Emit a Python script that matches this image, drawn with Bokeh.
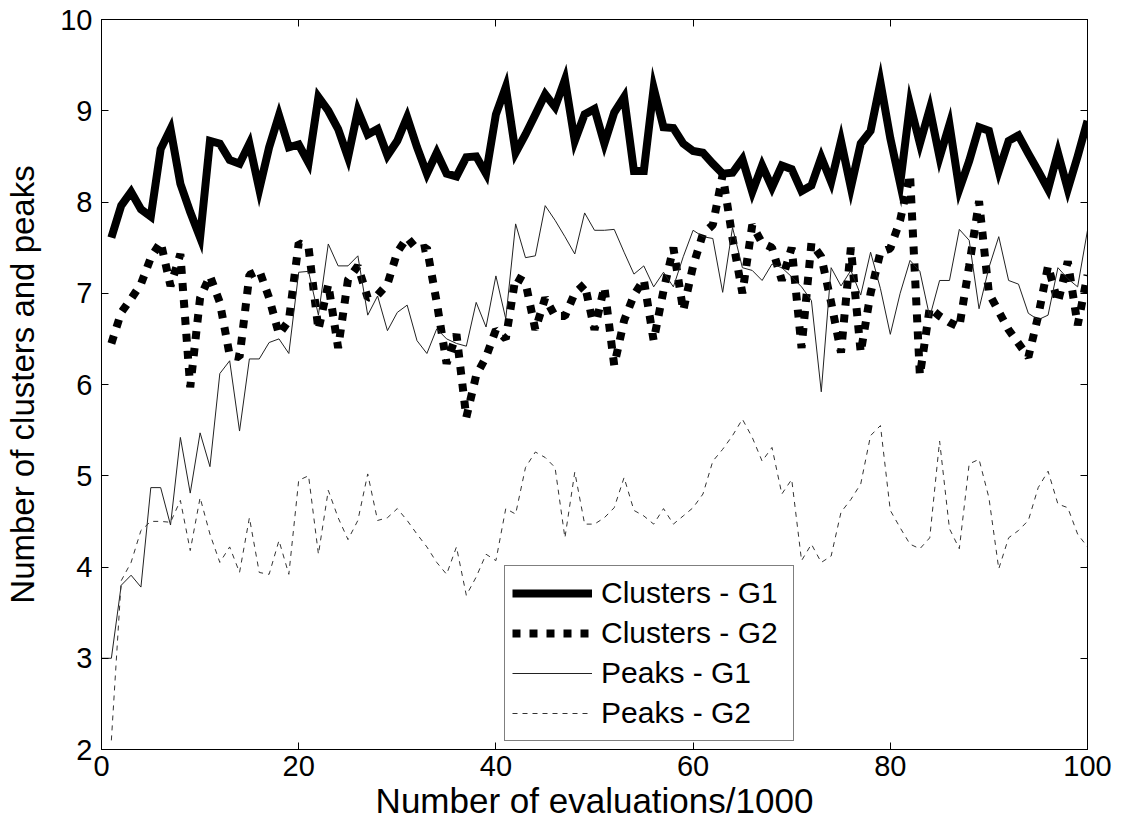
from bokeh.plotting import figure
from bokeh.models import LinearAxis, Legend, LegendItem, FixedTicker, Range1d
from bokeh.embed import file_html
from bokeh.resources import INLINE

# ---- data ----
evals = list(range(1, 101))
evals_peaks_g1 = list(range(0, 101))

clusters_g1 = [7.61, 7.96, 8.11, 7.92, 7.84, 8.58, 8.80, 8.20, 7.89, 7.61,
               8.67, 8.64, 8.46, 8.42, 8.64, 8.14, 8.60, 8.95, 8.60, 8.63,
               8.43, 9.15, 9.00, 8.80, 8.49, 9.00, 8.74, 8.80, 8.51, 8.67,
               8.93, 8.60, 8.31, 8.54, 8.31, 8.28, 8.49, 8.50, 8.31, 8.96,
               9.26, 8.54, 8.74, 8.96, 9.18, 9.04, 9.34, 8.67, 8.96, 9.02,
               8.64, 8.98, 9.15, 8.34, 8.34, 9.25, 8.82, 8.81, 8.64, 8.56,
               8.54, 8.42, 8.31, 8.32, 8.47, 8.11, 8.40, 8.16, 8.40, 8.36,
               8.12, 8.18, 8.49, 8.22, 8.67, 8.16, 8.64, 8.78, 9.31, 8.70,
               8.20, 9.07, 8.64, 9.02, 8.49, 8.85, 8.14, 8.45, 8.82, 8.78,
               8.34, 8.67, 8.73, 8.53, 8.34, 8.14, 8.54, 8.14, 8.50, 8.89]

clusters_g2 = [6.45, 6.79, 6.94, 7.10, 7.39, 7.56, 7.08, 7.43, 5.97, 6.95,
               7.19, 6.90, 6.32, 6.30, 7.20, 7.25, 6.95, 6.55, 6.70, 7.55,
               7.50, 6.60, 7.10, 6.40, 7.15, 7.30, 6.95, 6.98, 7.10, 7.45,
               7.61, 7.48, 7.50, 6.90, 6.23, 6.55, 5.64, 6.10, 6.30, 6.60,
               6.50, 7.18, 7.12, 6.60, 6.95, 6.75, 6.75, 7.00, 7.10, 6.60,
               7.07, 6.21, 6.70, 6.98, 7.15, 6.48, 7.03, 7.50, 6.81, 7.30,
               7.65, 7.75, 8.30, 7.60, 7.00, 7.75, 7.55, 7.50, 7.14, 7.50,
               6.40, 7.55, 7.40, 6.90, 6.35, 7.50, 6.35, 7.00, 7.45, 7.49,
               7.80, 8.30, 6.10, 6.84, 6.75, 6.68, 6.63, 7.30, 8.01, 7.00,
               6.80, 6.60, 6.45, 6.30, 6.75, 7.30, 6.90, 7.35, 6.65, 7.20]

peaks_g1 = [3.00,
            3.00, 3.80, 3.91, 3.78, 4.87, 4.87, 4.46, 5.42, 4.81, 5.47,
            5.10, 6.12, 6.26, 5.49, 6.28, 6.28, 6.46, 6.50, 6.34, 7.23,
            7.24, 6.76, 7.54, 7.30, 7.30, 7.41, 6.76, 6.97, 6.59, 6.79,
            6.87, 6.48, 6.34, 6.61, 6.50, 6.45, 6.42, 6.90, 6.63, 7.19,
            6.72, 7.76, 7.39, 7.41, 7.96, 7.80, 7.62, 7.43, 7.88, 7.69,
            7.69, 7.70, 7.45, 7.21, 7.30, 7.07, 7.23, 7.07, 7.40, 7.69,
            7.62, 7.60, 7.01, 7.72, 7.28, 7.25, 7.14, 7.32, 7.28, 7.18,
            7.07, 6.92, 5.92, 7.28, 7.08, 7.25, 6.98, 7.45, 7.05, 6.55,
            7.00, 7.36, 7.24, 6.74, 7.14, 7.14, 7.70, 7.58, 6.83, 7.28,
            7.62, 7.14, 7.10, 6.78, 6.71, 6.76, 7.28, 7.16, 7.07, 7.69]

peaks_g2 = [2.10, 3.85, 4.05, 4.40, 4.50, 4.50, 4.49, 4.73, 4.18, 4.76,
            4.36, 4.05, 4.22, 3.94, 4.54, 3.94, 3.92, 4.29, 3.92, 4.95,
            5.00, 4.14, 4.84, 4.54, 4.30, 4.51, 5.02, 4.51, 4.54, 4.64,
            4.51, 4.36, 4.22, 4.05, 3.92, 4.22, 3.69, 3.89, 4.14, 4.07,
            4.64, 4.58, 5.09, 5.26, 5.20, 5.09, 4.32, 5.04, 4.47, 4.47,
            4.54, 4.65, 4.98, 4.62, 4.56, 4.47, 4.64, 4.47, 4.56, 4.65,
            4.80, 5.16, 5.29, 5.44, 5.62, 5.42, 5.16, 5.31, 4.80, 4.96,
            4.07, 4.25, 4.05, 4.12, 4.60, 4.74, 4.91, 5.44, 5.55, 4.62,
            4.43, 4.25, 4.20, 4.32, 5.38, 4.42, 4.20, 5.13, 5.18, 4.76,
            3.98, 4.32, 4.40, 4.51, 4.87, 5.05, 4.69, 4.65, 4.36, 4.22]

x_ticks = [0, 20, 40, 60, 80, 100]
y_ticks = [2, 3, 4, 5, 6, 7, 8, 9, 10]

FONT = "Liberation Sans"

p = figure(frame_width=986, frame_height=730,
           x_range=Range1d(0, 100), y_range=Range1d(2, 10),
           output_backend="svg", toolbar_location=None,
           min_border_left=101, min_border_right=38,
           min_border_top=19, min_border_bottom=80,
           background_fill_color="white", border_fill_color="white")
p.grid.visible = False
p.outline_line_color = "black"
p.outline_line_width = 1

r1 = p.line(evals, clusters_g1, line_color="black", line_width=8, line_join="miter")
r2 = p.line(evals, clusters_g2, line_color="black", line_width=8, line_dash="8 9")
r3 = p.line(evals_peaks_g1, peaks_g1, line_color="#222222", line_width=1)
r4 = p.line(evals, peaks_g2, line_color="#333333", line_width=1, line_dash="5 5")

def style_axis(ax):
    ax.axis_line_color = "black"
    ax.axis_line_width = 1
    ax.major_tick_in = 7
    ax.major_tick_out = 0
    ax.major_tick_line_color = "black"
    ax.minor_tick_line_color = None
    ax.major_label_text_font = FONT
    ax.major_label_text_font_size = "29px"
    ax.major_label_text_color = "black"
    ax.axis_label_text_font = FONT
    ax.axis_label_text_font_style = "normal"
    ax.axis_label_text_color = "black"

xa = p.xaxis[0]
ya = p.yaxis[0]
xa.ticker = FixedTicker(ticks=x_ticks)
ya.ticker = FixedTicker(ticks=y_ticks)
style_axis(xa)
style_axis(ya)
xa.axis_label = "Number of evaluations/1000"
ya.axis_label = "Number of clusters and peaks"
xa.axis_label_text_font_size = "35px"
ya.axis_label_text_font_size = "33px"
xa.major_label_standoff = 6
ya.major_label_standoff = 9
xa.axis_label_standoff = 2
ya.axis_label_standoff = 16

top = LinearAxis(ticker=FixedTicker(ticks=x_ticks),
                 major_label_overrides={t: "" for t in x_ticks})
right = LinearAxis(ticker=FixedTicker(ticks=y_ticks),
                   major_label_overrides={t: "" for t in y_ticks})
for ax in (top, right):
    style_axis(ax)
    ax.major_label_standoff = 0
p.add_layout(top, "above")
p.add_layout(right, "right")

legend = Legend(items=[
    LegendItem(label="Clusters - G1", renderers=[r1]),
    LegendItem(label="Clusters - G2", renderers=[r2]),
    LegendItem(label="Peaks - G1", renderers=[r3]),
    LegendItem(label="Peaks - G2", renderers=[r4]),
], location=(403, 8))
legend.label_text_font = FONT
legend.label_text_font_size = "30px"
legend.label_text_color = "black"
legend.glyph_width = 80
legend.glyph_height = 40
legend.label_height = 40
legend.label_width = 185
legend.label_standoff = 9
legend.padding = 7
legend.spacing = 0
legend.margin = 0
legend.border_line_color = "black"
legend.border_line_width = 1
legend.background_fill_color = "white"
legend.background_fill_alpha = 1
p.add_layout(legend, "center")

open("out.html", "w").write(file_html(p, INLINE))
